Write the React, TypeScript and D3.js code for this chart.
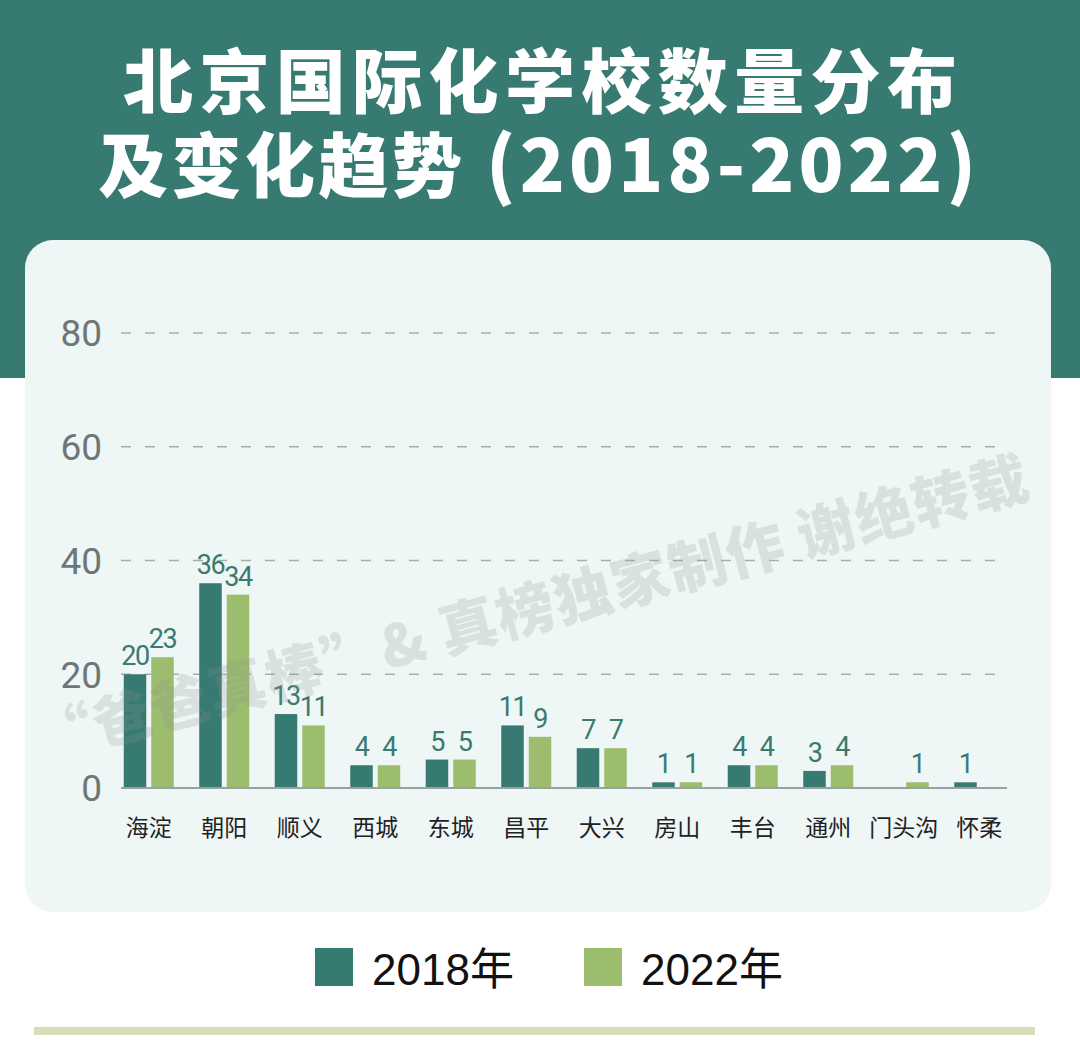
import React, { useEffect, useRef } from 'react'
import * as d3 from 'd3'

const districts = ['海淀', '朝阳', '顺义', '西城', '东城', '昌平', '大兴', '房山', '丰台', '通州', '门头沟', '怀柔']
const values2018: (number | null)[] = [20, 36, 13, 4, 5, 11, 7, 1, 4, 3, null, 1]
const values2022: (number | null)[] = [23, 34, 11, 4, 5, 9, 7, 1, 4, 4, 1, null]
const seriesKeys = ['2018', '2022']
const seriesLabels = ['2018年', '2022年']
const yTicks = [0, 20, 40, 60, 80]

const titleLine1 = '北京国际化学校数量分布'
const titleLine2a = '及变化趋势'
const titleLine2b = '(2018-2022)'
const watermark = '“爸爸真棒”& 真榜独家制作 谢绝转载'

const WIDTH = 1080
const HEIGHT = 1063
const TEAL = '#367a71'
const GREEN = '#9cbd6e'
const CJK = '"Noto Sans CJK SC", "Noto Sans", sans-serif'
const NUM = 'Roboto, "Noto Sans", sans-serif'

const Chart: React.FC = () => {
    const svgRef = useRef<SVGSVGElement | null>(null)

    useEffect(() => {
        const svg = d3.select(svgRef.current).attr('width', WIDTH).attr('height', HEIGHT)
        svg.selectAll('*').remove()

        // background: teal header band + light card
        svg.append('rect').attr('width', WIDTH).attr('height', HEIGHT).attr('fill', '#ffffff')
        svg.append('rect').attr('width', WIDTH).attr('height', 378).attr('fill', TEAL)
        svg.append('rect')
            .attr('x', 25)
            .attr('y', 240)
            .attr('width', 1026)
            .attr('height', 672)
            .attr('rx', 28)
            .attr('fill', '#eef6f6')

        // title
        svg.append('text')
            .attr('x', 123)
            .attr('y', 108)
            .attr('textLength', 834)
            .attr('lengthAdjust', 'spacing')
            .attr('font-family', CJK)
            .attr('font-weight', 900)
            .attr('font-size', 70)
            .attr('fill', '#ffffff')
            .text(titleLine1)
        svg.append('text')
            .attr('x', 98)
            .attr('y', 192)
            .attr('textLength', 364)
            .attr('lengthAdjust', 'spacing')
            .attr('font-family', CJK)
            .attr('font-weight', 900)
            .attr('font-size', 70)
            .attr('fill', '#ffffff')
            .text(titleLine2a)
        svg.append('text')
            .attr('x', 486)
            .attr('y', 192)
            .attr('textLength', 490)
            .attr('lengthAdjust', 'spacing')
            .attr('font-family', CJK)
            .attr('font-weight', 900)
            .attr('font-size', 74)
            .attr('fill', '#ffffff')
            .text(titleLine2b)

        const x0 = d3.scaleBand<string>().domain(districts).range([111, 1017])
        const x1 = d3
            .scaleBand<string>()
            .domain(seriesKeys)
            .range([x0.bandwidth() / 2 - 25, x0.bandwidth() / 2 + 25])
            .paddingInner(0.182)
        const y = d3.scaleLinear().domain([0, 80]).range([788, 333])

        const gridLeft = 121
        const gridRight = 1007

        // dashed grid lines
        svg.append('g')
            .selectAll('line')
            .data(yTicks.filter((t) => t > 0))
            .join('line')
            .attr('x1', gridLeft)
            .attr('x2', gridRight)
            .attr('y1', (d) => y(d))
            .attr('y2', (d) => y(d))
            .attr('stroke', '#a8aeae')
            .attr('stroke-width', 1.5)
            .attr('stroke-dasharray', '10,14')

        // y tick labels
        svg.append('g')
            .selectAll('text')
            .data(yTicks)
            .join('text')
            .attr('x', 102)
            .attr('y', (d) => y(d))
            .attr('dy', '0.36em')
            .attr('text-anchor', 'end')
            .attr('font-family', NUM)
            .attr('font-size', 37)
            .attr('fill', '#6f7677')
            .text((d) => d)

        const rows = districts.map((name, i) => ({
            name,
            values: [
                { key: '2018', value: values2018[i], color: TEAL },
                { key: '2022', value: values2022[i], color: GREEN },
            ],
        }))

        const groups = svg
            .append('g')
            .selectAll('g')
            .data(rows)
            .join('g')
            .attr('transform', (d) => `translate(${x0(d.name)},0)`)

        const present = (d: { values: { key: string; value: number | null; color: string }[] }) =>
            d.values.filter((v) => v.value != null)

        groups
            .selectAll('rect')
            .data(present)
            .join('rect')
            .attr('x', (d) => x1(d.key)!)
            .attr('y', (d) => y(d.value as number))
            .attr('width', x1.bandwidth())
            .attr('height', (d) => y(0) - y(d.value as number))
            .attr('fill', (d) => d.color)

        groups
            .selectAll('text.value')
            .data(present)
            .join('text')
            .attr('class', 'value')
            .attr('x', (d) => x1(d.key)! + x1.bandwidth() / 2)
            .attr('y', (d) => y(d.value as number) - 9)
            .attr('text-anchor', 'middle')
            .attr('font-family', NUM)
            .attr('font-size', 27)
            .attr('letter-spacing', -1.5)
            .attr('fill', '#3b7a6e')
            .text((d) => d.value as number)

        // baseline
        svg.append('line')
            .attr('x1', gridLeft)
            .attr('x2', gridRight)
            .attr('y1', y(0))
            .attr('y2', y(0))
            .attr('stroke', '#9aa1a1')
            .attr('stroke-width', 2)

        // category labels
        svg.append('g')
            .selectAll('text')
            .data(districts)
            .join('text')
            .attr('x', (d) => x0(d)! + x0.bandwidth() / 2)
            .attr('y', 836)
            .attr('text-anchor', 'middle')
            .attr('font-family', CJK)
            .attr('font-size', 23)
            .attr('fill', '#222222')
            .text((d) => d)

        // watermark over the plot
        svg.append('text')
            .attr('transform', 'translate(42,762) rotate(-15)')
            .attr('textLength', 1025)
            .attr('lengthAdjust', 'spacing')
            .attr('font-family', CJK)
            .attr('font-weight', 900)
            .attr('font-size', 58)
            .attr('fill', '#8c9494')
            .attr('opacity', 0.22)
            .text(watermark)

        // legend
        const legend = svg
            .append('g')
            .selectAll('g')
            .data(seriesLabels)
            .join('g')
            .attr('transform', (_, i) => `translate(${315 + i * 269},948)`)
        legend
            .append('rect')
            .attr('width', 38)
            .attr('height', 38)
            .attr('fill', (_, i) => (i === 0 ? TEAL : GREEN))
        legend
            .append('text')
            .attr('x', 57)
            .attr('y', 37)
            .attr('font-family', '"Liberation Sans", "Noto Sans CJK SC", sans-serif')
            .attr('font-size', 44)
            .attr('fill', '#111111')
            .text((d) => d)

        // bottom rule
        svg.append('rect')
            .attr('x', 34)
            .attr('y', 1027)
            .attr('width', 1001)
            .attr('height', 8)
            .attr('fill', '#d5e0bb')
    }, [])

    return <svg ref={svgRef} width={WIDTH} height={HEIGHT} style={{ display: 'block' }} />
}

export default function App() {
    useEffect(() => {
        document.body.style.margin = '0'
    }, [])
    return <Chart />
}
